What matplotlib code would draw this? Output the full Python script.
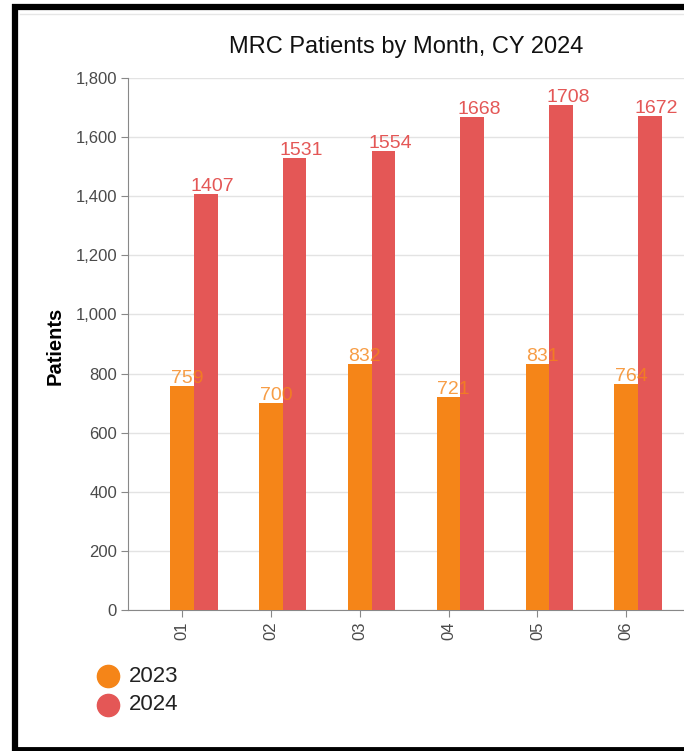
import numpy as np
import matplotlib
matplotlib.use("Agg")
import matplotlib.pyplot as plt
from matplotlib.lines import Line2D
from matplotlib.ticker import FuncFormatter

months = ["01", "02", "03", "04", "05", "06"]
patients_2023 = [759, 700, 832, 721, 831, 764]
patients_2024 = [1407, 1531, 1554, 1668, 1708, 1672]
years = ["2023", "2024"]

c23 = "#F58518"
c24 = "#E45756"

plt.rcParams["font.family"] = ["Liberation Sans", "DejaVu Sans"]

fig = plt.figure(figsize=(6.84, 7.51), dpi=100)
W, H = 684, 751

# cadre noir autour
fig.add_artist(Line2D([14.5 / W, 14.5 / W], [0, 1 - 4 / H], color="black", lw=4.5,
                      solid_capstyle="butt"))
fig.add_artist(Line2D([12 / W, 1], [1 - 7 / H, 1 - 7 / H], color="black", lw=4.5,
                      solid_capstyle="butt"))
fig.add_artist(Line2D([12 / W, 1], [2.5 / H, 2.5 / H], color="black", lw=3.5,
                      solid_capstyle="butt"))
fig.add_artist(Line2D([20 / W, 1], [1 - 14 / H, 1 - 14 / H], color="#e6e6e6", lw=1))

ax = fig.add_axes([128 / W, 141 / H, 556 / W, 532 / H])

x = np.arange(len(months))
w = 0.265
ax.bar(x - w / 2, patients_2023, w, color=c23, zorder=3)
ax.bar(x + w / 2, patients_2024, w, color=c24, zorder=3)

for i in range(len(months)):
    ax.text(x[i] - w + 0.005, patients_2023[i] + 10, str(patients_2023[i]), color=c23,
            fontsize=14, ha="left", va="baseline", zorder=4, alpha=0.8)
    ax.text(x[i] - 0.035, patients_2024[i] + 10, str(patients_2024[i]), color=c24,
            fontsize=14, ha="left", va="baseline", zorder=4)

ax.set_xlim(-0.743, 5.518)
ax.set_ylim(0, 1800)
ax.set_yticks(np.arange(0, 1801, 200))
ax.yaxis.set_major_formatter(FuncFormatter(lambda v, p: f"{int(v):,}"))
ax.set_xticks(x - w / 2)
ax.set_xticklabels(months, rotation=90)

ax.grid(axis="y", color="#e3e3e3", lw=1, zorder=0)
for s in ["top", "right"]:
    ax.spines[s].set_visible(False)
for s in ["left", "bottom"]:
    ax.spines[s].set_color("#888888")
ax.tick_params(axis="both", colors="#888888", labelcolor="#4a4a4a", labelsize=12,
               length=5, direction="out", pad=3)

fig.text(55 / W, 1 - 346 / H, "Patients", fontsize=14.5, fontweight="bold",
         rotation=90, ha="center", va="center", color="black")
fig.text(406 / W, 1 - 53 / H, "MRC Patients by Month, CY 2024", fontsize=17,
         ha="center", va="baseline", color="#111111")

# leyenda
for yy, c, lab in [(676, c23, years[0]), (705, c24, years[1])]:
    fig.add_artist(Line2D([108 / W], [1 - yy / H], marker="o", ls="", color=c,
                          markersize=16))
    fig.text(129 / W, 1 - yy / H, lab, fontsize=16, ha="left", va="center",
             color="#222222")

fig.savefig("out.png", dpi=100)
